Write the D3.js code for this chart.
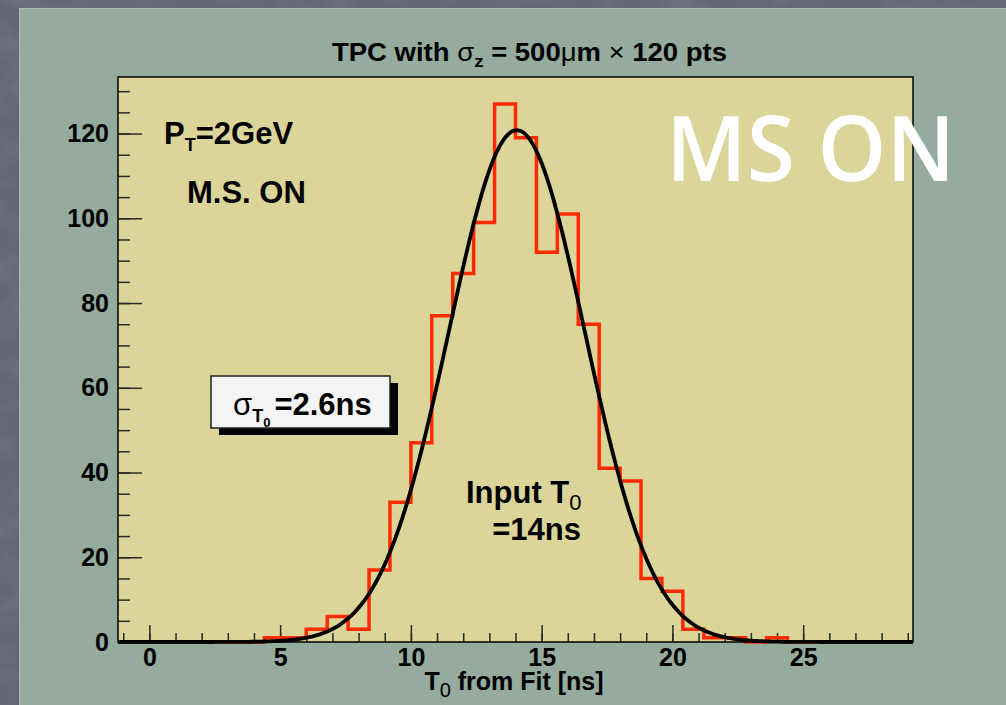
<!DOCTYPE html>
<html>
<head>
<meta charset="utf-8">
<script src="https://cdn.jsdelivr.net/npm/d3@7"></script>
<style>
  html, body { margin: 0; padding: 0; background: #646879; }
  #chart { width: 1006px; height: 705px; }
  text { font-family: "Liberation Sans", Arial, Helvetica, sans-serif; }
</style>
</head>
<body>
<div id="chart"></div>
<script>
// histogram of fitted T0, 38 bins of 0.8 ns from -1.2 to 29.2
const xLow = -1.2;
const xHigh = 29.2;
const counts = [0, 0, 0, 0, 0, 0, 0, 1, 1, 3, 6, 3, 17, 33, 47, 77, 87, 99, 127, 119,
    92, 101, 75, 41, 38, 15, 12, 3, 1, 1, 0, 1, 0, 0, 0, 0, 0, 0];
const binWidth = (xHigh - xLow) / counts.length;

// gaussian fit
const fitConst = 120.8;
const fitMean = 14.05;
const fitSigma = 2.6;

const xTicks = [0, 5, 10, 15, 20, 25];
const xMinorTicks = d3.range(-1, 30, 1);
const yTicks = [0, 20, 40, 60, 80, 100, 120];
const yMinorTicks = d3.range(0, 131, 5);
const yMax = d3.max(counts) * 1.05;

let div = document.getElementById("chart");
let divWidth = 1006;
let divHeight = 705;

let svg = d3.select(div).append("svg")
    .attr("width", divWidth)
    .attr("height", divHeight);

let defs = svg.append("defs");
let noise = defs.append("filter").attr("id", "grain")
    .attr("x", 0).attr("y", 0).attr("width", "100%").attr("height", "100%");
noise.append("feTurbulence")
    .attr("type", "fractalNoise")
    .attr("baseFrequency", "0.02 0.035")
    .attr("numOctaves", 3)
    .attr("seed", 7);
noise.append("feColorMatrix")
    .attr("type", "matrix")
    .attr("values", "0 0 0 0 0.5  0 0 0 0 0.52  0 0 0 0 0.6  0 0 0 0.8 -0.3");

// slate background + green panel
svg.append("rect").attr("width", divWidth).attr("height", divHeight).attr("fill", "#626677");
svg.append("rect").attr("width", divWidth).attr("height", divHeight)
    .attr("filter", "url(#grain)").attr("opacity", 0.35);
svg.append("rect")
    .attr("x", 19.5).attr("y", 8.5)
    .attr("width", divWidth).attr("height", divHeight)
    .attr("fill", "#94ab9d")
    .attr("stroke", "#a8bbb0")
    .attr("stroke-width", 1);

let margin = {left: 118, right: 913, top: 77, bottom: 642};

let x = d3.scaleLinear().domain([xLow, xHigh]).range([margin.left, margin.right]);
let y = d3.scaleLinear().domain([0, yMax]).range([margin.bottom, margin.top]);

// frame fill
svg.append("rect")
    .attr("x", x(xLow)).attr("y", y(yMax))
    .attr("width", x(xHigh) - x(xLow))
    .attr("height", y(0) - y(yMax))
    .attr("fill", "#dbd59a");

// minor ticks
svg.append("g")
    .attr("class", "axis--x-minor")
    .attr("transform", `translate(0,${y(0)})`)
    .call(d3.axisBottom(x).tickValues(xMinorTicks).tickSize(-9).tickFormat(""));
svg.append("g")
    .attr("class", "axis--y-minor")
    .attr("transform", `translate(${x(xLow)},0)`)
    .call(d3.axisLeft(y).tickValues(yMinorTicks).tickSize(-12).tickFormat(""));

// major ticks with labels
svg.append("g")
    .attr("class", "axis axis--x")
    .attr("transform", `translate(0,${y(0)})`)
    .call(d3.axisBottom(x).tickValues(xTicks).tickSize(-17).tickPadding(6));
svg.append("g")
    .attr("class", "axis axis--y")
    .attr("transform", `translate(${x(xLow)},0)`)
    .call(d3.axisLeft(y).tickValues(yTicks).tickSize(-24).tickPadding(9));

svg.selectAll(".domain").remove();
svg.selectAll(".tick line").attr("stroke", "#2a2a2a").attr("stroke-width", 1.5);
svg.selectAll(".axis .tick text")
    .attr("fill", "#000")
    .attr("font-size", 25)
    .attr("font-weight", "bold")
    .style("font-family", "'Liberation Sans', Arial, sans-serif");

// histogram outline
let steps = counts.map((c, i) => ({x: xLow + i * binWidth, y: c}));
steps.push({x: xHigh, y: counts[counts.length - 1]});
let histLine = d3.line().x(d => x(d.x)).y(d => y(d.y)).curve(d3.curveStepAfter);
svg.append("path")
    .attr("d", histLine(steps))
    .attr("fill", "none")
    .attr("stroke", "#ff2a00")
    .attr("stroke-width", 3.5);

// fit curve
let fitPts = d3.range(xLow, xHigh + 0.001, 0.05).map(v => ({
    x: v,
    y: fitConst * Math.exp(-0.5 * Math.pow((v - fitMean) / fitSigma, 2))
}));
let fitLine = d3.line().x(d => x(d.x)).y(d => y(d.y)).curve(d3.curveMonotoneX);
svg.append("path")
    .attr("d", fitLine(fitPts))
    .attr("fill", "none")
    .attr("stroke", "#000")
    .attr("stroke-width", 3.8);

// frame
svg.append("rect")
    .attr("x", x(xLow)).attr("y", y(yMax))
    .attr("width", x(xHigh) - x(xLow))
    .attr("height", y(0) - y(yMax))
    .attr("fill", "none")
    .attr("stroke", "#000")
    .attr("stroke-width", 1.5);

// title
let title = svg.append("text")
    .attr("x", 332).attr("y", 61)
    .attr("font-size", 25)
    .attr("font-weight", "bold")
    .attr("textLength", 395)
    .attr("lengthAdjust", "spacingAndGlyphs");
title.append("tspan").text("TPC with ");
title.append("tspan").attr("font-weight", "normal").text("σ");
title.append("tspan").attr("font-size", 17).attr("dy", 6).text("z");
title.append("tspan").attr("dy", -6).text(" = 500");
title.append("tspan").attr("font-weight", "normal").text("μ");
title.append("tspan").text("m ");
title.append("tspan").attr("font-weight", "normal").text("×");
title.append("tspan").text(" 120 pts");

// x axis title
let xTitle = svg.append("text")
    .attr("x", 514).attr("y", 690)
    .attr("text-anchor", "middle")
    .attr("font-size", 25)
    .attr("font-weight", "bold");
xTitle.append("tspan").text("T");
xTitle.append("tspan").attr("font-size", 20).attr("font-weight", "normal").attr("dy", 7).text("0");
xTitle.append("tspan").attr("dy", -7).text(" from Fit [ns]");

// labels in the pad
let pt = svg.append("text")
    .attr("x", 164).attr("y", 144)
    .attr("font-size", 31)
    .attr("font-weight", "bold");
pt.append("tspan").text("P");
pt.append("tspan").attr("font-size", 18).attr("dy", 7).text("T");
pt.append("tspan").attr("dy", -7).text("=2GeV");

svg.append("text")
    .attr("x", 187).attr("y", 203)
    .attr("font-size", 31)
    .attr("font-weight", "bold")
    .text("M.S. ON");

let inp = svg.append("text")
    .attr("x", 466).attr("y", 503)
    .attr("font-size", 31)
    .attr("font-weight", "bold");
inp.append("tspan").text("Input T");
inp.append("tspan").attr("font-size", 22).attr("font-weight", "normal").attr("dy", 7).text("0");
svg.append("text")
    .attr("x", 581).attr("y", 540)
    .attr("text-anchor", "end")
    .attr("font-size", 31)
    .attr("font-weight", "bold")
    .text("=14ns");

// sigma box with shadow
let box = {x: 211, y: 376, w: 179, h: 52};
svg.append("rect")
    .attr("x", box.x + 8).attr("y", box.y + 7)
    .attr("width", box.w).attr("height", box.h)
    .attr("fill", "#000");
svg.append("rect")
    .attr("x", box.x).attr("y", box.y)
    .attr("width", box.w).attr("height", box.h)
    .attr("fill", "#f4f4f4")
    .attr("stroke", "#222")
    .attr("stroke-width", 1.5);
let sig = svg.append("text")
    .attr("x", 233).attr("y", 415)
    .attr("font-size", 31)
    .attr("font-weight", "bold");
sig.append("tspan").attr("font-weight", "normal").text("σ");
sig.append("tspan").attr("font-size", 18).attr("dy", 7).text("T");
sig.append("tspan").attr("font-size", 13).attr("dy", 5).text("0");
sig.append("tspan").attr("dy", -12).attr("dx", 4).text("=2.6ns");

// slide annotation
svg.append("text")
    .attr("x", 666).attr("y", 181)
    .attr("font-size", 90)
    .attr("font-weight", 600)
    .style("font-family", "'Open Sans', 'DejaVu Sans', sans-serif")
    .attr("fill", "#fff")
    .attr("textLength", 289)
    .attr("lengthAdjust", "spacingAndGlyphs")
    .text("MS ON");
</script>
</body>
</html>
